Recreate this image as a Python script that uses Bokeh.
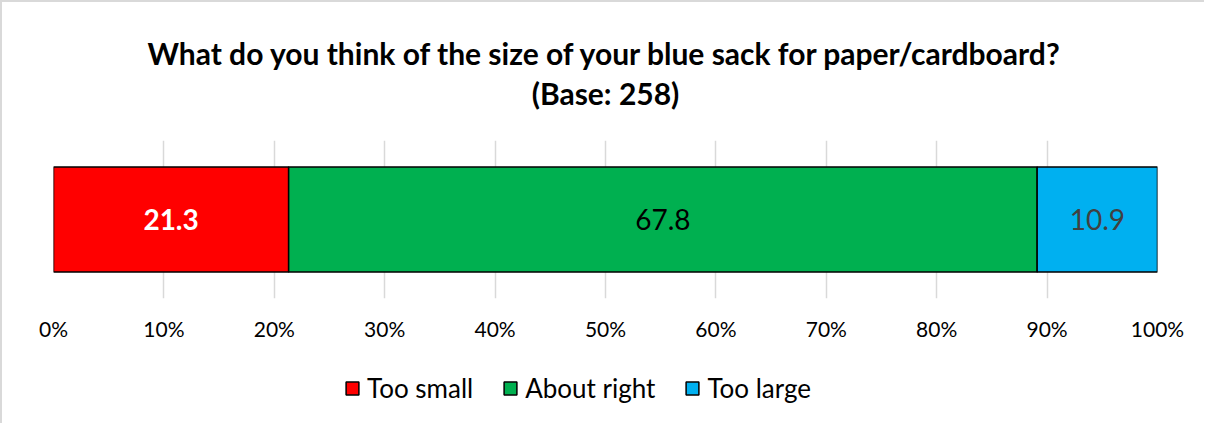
from bokeh.plotting import figure
from bokeh.models import (ColumnDataSource, FactorRange, Range1d, Legend, LegendItem,
                          FixedTicker, Column)
from bokeh.embed import file_html
from bokeh.resources import INLINE
from bokeh.core.properties import value
import numpy as np

# ---- data ----
category = ["Blue sack"]
series_names = ["Too small", "About right", "Too large"]
series_values = [21.3, 67.8, 10.9]
series_colors = ["#FF0000", "#00B050", "#00B0F0"]
label_colors = ["#FFFFFF", "#000000", "#404040"]
label_styles = ["bold", "normal", "normal"]
tick_values = [0, 10, 20, 30, 40, 50, 60, 70, 80, 90, 100]
tick_labels = ["0%", "10%", "20%", "30%", "40%", "50%", "60%", "70%", "80%", "90%", "100%"]
title_lines = ["What do you think of the size of your blue sack for paper/cardboard?",
               "(Base: 258)"]

FONT = "Lato"
BORDER = "2px solid #D9D9D9"
x_range = Range1d(0, 100)

# ---- title strip (frame spans the strip; its y units are pixels) ----
TITLE_H = 128
p0 = figure(width=1204, height=TITLE_H, output_backend="svg", toolbar_location=None,
            x_range=x_range, y_range=Range1d(0, TITLE_H),
            x_axis_location=None, y_axis_location=None,
            min_border_left=51, min_border_right=49, min_border_top=0, min_border_bottom=0)
p0.styles = {"border-top": BORDER, "border-left": BORDER}
p0.outline_line_color = None
p0.grid.grid_line_color = None
title_y = [TITLE_H - 50, TITLE_H - 90]   # line centres, measured from the strip's top
p0.text(x=[(x_range.start + x_range.end) / 2] * 2, y=title_y, text=title_lines,
        text_align="center", text_baseline="middle", text_font=value(FONT),
        text_font_size="30px", text_font_style="bold", text_color="#000000")

# ---- main chart ----
p = figure(width=1204, height=220, output_backend="svg", toolbar_location=None,
           x_range=x_range, y_range=FactorRange(factors=category),
           y_axis_location=None, min_border_left=51, min_border_right=49,
           min_border_top=12, min_border_bottom=50, title=None)
p.styles = {"border-left": BORDER}
p.outline_line_color = None

src = ColumnDataSource({"cat": category, **{n: [v] for n, v in zip(series_names, series_values)}})
rends = p.hbar_stack(series_names, y="cat", height=0.665, color=series_colors,
                     line_color="black", line_width=1.5, source=src)

cum = np.cumsum(series_values)
mids = cum - np.array(series_values) / 2
lab_src = ColumnDataSource({"x": mids, "y": category * len(series_values),
                            "t": [f"{v:.1f}" for v in series_values],
                            "c": label_colors, "s": label_styles})
p.text(x="x", y="y", text="t", text_color="c", text_font_style="s", source=lab_src,
       text_align="center", text_baseline="middle", text_font=value(FONT),
       text_font_size="28px")

ax = p.xaxis[0]
ax.ticker = FixedTicker(ticks=tick_values)
ax.major_label_overrides = {v: l for v, l in zip(tick_values, tick_labels)}
ax.axis_line_color = None
ax.major_tick_line_color = None
ax.minor_tick_line_color = None
ax.major_label_text_font = FONT
ax.major_label_text_font_size = "21px"
ax.major_label_text_color = "#000000"
ax.major_label_standoff = 11

p.xgrid.grid_line_color = "#D9D9D9"
p.xgrid.grid_line_width = 1.5
p.xgrid.ticker = FixedTicker(ticks=tick_values)
p.ygrid.grid_line_color = None

# ---- legend strip (same stacked bars, hidden; only their legend is shown) ----
p2 = figure(width=1204, height=75, output_backend="svg", toolbar_location=None,
            x_range=Range1d(-10000, -9900), y_range=FactorRange(factors=category),
            x_axis_location=None, y_axis_location=None,
            min_border_left=51, min_border_right=49, min_border_top=0, min_border_bottom=0)
p2.styles = {"border-left": BORDER}
p2.outline_line_color = None
p2.grid.grid_line_color = None
leg_rends = p2.hbar_stack(series_names, y="cat", height=0.665, color=series_colors,
                          line_color="black", line_width=1.5, source=src)
for r in leg_rends:
    r.visible = False
legend = Legend(items=[LegendItem(label=n, renderers=[r]) for n, r in zip(series_names, leg_rends)],
                orientation="horizontal", location=(291, 19),
                label_text_font=FONT, label_text_font_size="26px", label_text_color="#000000",
                glyph_width=16, glyph_height=16, label_standoff=7, spacing=29,
                padding=0, margin=0, border_line_color=None, background_fill_alpha=0)
p2.add_layout(legend, "center")

layout = Column(children=[p0, p, p2], spacing=0)
open("out.html", "w").write(file_html(layout, INLINE))
